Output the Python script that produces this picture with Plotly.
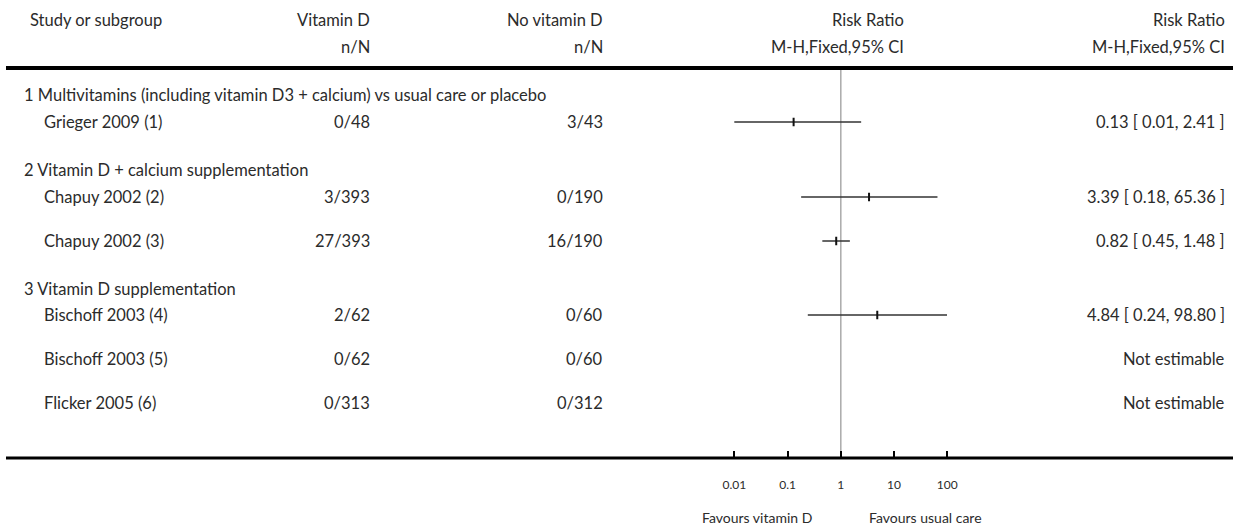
import plotly.graph_objects as go

# ---- data -------------------------------------------------------------
subgroups = [
    "1 Multivitamins (including vitamin D3 + calcium) vs usual care or placebo",
    "2 Vitamin D + calcium supplementation",
    "3 Vitamin D supplementation",
]
studies = ["Grieger 2009 (1)", "Chapuy 2002 (2)", "Chapuy 2002 (3)",
           "Bischoff 2003 (4)", "Bischoff 2003 (5)", "Flicker 2005 (6)"]
vitd_n = [0, 3, 27, 2, 0, 0]
vitd_N = [48, 393, 393, 62, 62, 313]
ctrl_n = [3, 0, 16, 0, 0, 0]
ctrl_N = [43, 190, 190, 60, 60, 312]
rr = [0.13, 3.39, 0.82, 4.84, None, None]
rr_lo = [0.01, 0.18, 0.45, 0.24, None, None]
rr_hi = [2.41, 65.36, 1.48, 98.80, None, None]
tick_vals = [0.01, 0.1, 1, 10, 100]
tick_text = ["0.01", "0.1", "1", "10", "100"]

# ---- layout constants (pixels) ---------------------------------------
W, H = 1239, 525
FONT = "Lato"
TXT = "#2b2b2b"
FS = 16.5
sub_y = [95, 170, 289]
study_y = [122, 197, 241, 315, 359, 403]
head_y1, head_y2 = 20, 47
top_rule, bottom_rule = 68, 458
col_study_sub, col_study = 22, 42
col_vd, col_nvd, col_rr, col_est = 372, 605, 906, 1227

fig = go.Figure()

# confidence intervals and point estimates on the log risk-ratio axis
for i, r in enumerate(rr):
    if r is None:
        continue
    fig.add_trace(go.Scatter(
        x=[rr_lo[i], rr_hi[i]], y=[study_y[i], study_y[i]],
        mode="lines", line=dict(color="#333333", width=1.3),
        xaxis="x", yaxis="y", hoverinfo="skip", showlegend=False))
    fig.add_trace(go.Scatter(
        x=[r], y=[study_y[i]], mode="markers",
        marker=dict(symbol="line-ns", size=6,
                    line=dict(color="#111111", width=2)),
        xaxis="x", yaxis="y", hoverinfo="skip", showlegend=False))

# line of no effect
fig.add_shape(type="line", xref="x", yref="y", x0=1, x1=1,
              y0=top_rule, y1=bottom_rule,
              line=dict(color="#aaaaaa", width=1.5), layer="below")

# horizontal rules
fig.add_shape(type="line", xref="x2", yref="y", x0=6, x1=1233,
              y0=top_rule, y1=top_rule, line=dict(color="black", width=4))
fig.add_shape(type="line", xref="x2", yref="y", x0=6, x1=1233,
              y0=bottom_rule, y1=bottom_rule, line=dict(color="black", width=3))


def txt(x, y, s, anchor="left", size=FS):
    fig.add_annotation(x=x, y=y, xref="x2", yref="y", text=s,
                       showarrow=False, xanchor=anchor, yanchor="middle",
                       font=dict(family=FONT, size=size, color=TXT))


# column headers
txt(28, head_y1, "Study or subgroup")
txt(col_vd, head_y1, "Vitamin D", "right")
txt(col_vd, head_y2, "n/N", "right")
txt(col_nvd, head_y1, "No vitamin D", "right")
txt(col_nvd, head_y2, "n/N", "right")
txt(col_rr, head_y1, "Risk Ratio", "right")
txt(col_rr, head_y2, "M-H,Fixed,95% CI", "right")
txt(col_est, head_y1, "Risk Ratio", "right")
txt(col_est, head_y2, "M-H,Fixed,95% CI", "right")

for g, label in enumerate(subgroups):
    txt(col_study_sub, sub_y[g], label)

for i, name in enumerate(studies):
    y = study_y[i]
    txt(col_study, y, name)
    txt(col_vd, y, f"{vitd_n[i]}/{vitd_N[i]}", "right")
    txt(col_nvd, y, f"{ctrl_n[i]}/{ctrl_N[i]}", "right")
    if rr[i] is None:
        est = "Not estimable"
    else:
        est = f"{rr[i]:.2f} [ {rr_lo[i]:.2f}, {rr_hi[i]:.2f} ]"
    txt(col_est, y, est, "right")

# favours labels under the axis
txt(757, 517, "Favours vitamin D", "center", 14)
txt(925, 517, "Favours usual care", "center", 14)

# log axis: 0.01 sits at x=734.3 px, 100 at 947.3 px; pad range by 0.1 decade
px_per_dec = (947.3 - 734.3) / 4
pad = 0.1
x0_px = 734.3 - pad * px_per_dec
x1_px = 947.3 + pad * px_per_dec
fig.update_layout(
    width=W, height=H,
    margin=dict(l=0, r=0, t=0, b=0, pad=0, autoexpand=False),
    paper_bgcolor="white", plot_bgcolor="rgba(0,0,0,0)",
    xaxis=dict(type="log", range=[-2 - pad, 2 + pad],
               domain=[x0_px / W, x1_px / W],
               anchor="free", position=(H - bottom_rule) / H,
               showgrid=False, zeroline=False, showline=False,
               tickvals=tick_vals, ticktext=tick_text,
               ticks="inside", ticklen=7, tickwidth=2, tickcolor="black",
               ticklabelstandoff=18, automargin=False,
               tickfont=dict(family=FONT, size=12, color=TXT)),
    xaxis2=dict(range=[0, W], domain=[0, 1], anchor="y", visible=False,
                automargin=False),
    yaxis=dict(range=[H, 0], domain=[0, 1], visible=False, automargin=False),
    showlegend=False,
)

fig.write_html("out.html")
